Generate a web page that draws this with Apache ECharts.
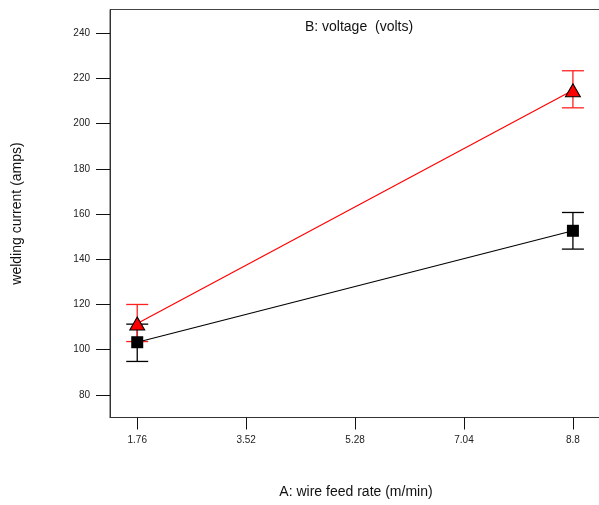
<!DOCTYPE html>
<html>
<head>
<meta charset="utf-8">
<script src="https://cdn.jsdelivr.net/npm/echarts@6/dist/echarts.min.js"></script>
<style>
  html, body { margin: 0; padding: 0; background: #fff; }
  #chart { width: 599px; height: 505px; }
</style>
</head>
<body>
<div id="chart"></div>
<script>
// x levels of factor A and tick labels
const xLevels = [1.76, 8.8]
const xTicks = [1.76, 3.52, 5.28, 7.04, 8.8]
const yTicks = [80, 100, 120, 140, 160, 180, 200, 220, 240]

// means and error-bar ends for each level of B
const lowMean = [103.3, 152.6]
const lowBottom = [94.8, 144.5]
const lowTop = [111.3, 160.7]
const highMean = [111.6, 214.8]
const highBottom = [103.6, 207.0]
const highTop = [120.0, 223.4]

const font = 'Liberation Sans, Arial, sans-serif'

const pairs = (xs, ys) => xs.map((x, i) => [x, ys[i]])
const bars = (xs, lo, hi) => xs.map((x, i) => [x, lo[i], hi[i]])

// error bar with caps
function errorBar(color) {
  return function (params, api) {
    const x = api.value(0)
    const p1 = api.coord([x, api.value(1)])
    const p2 = api.coord([x, api.value(2)])
    const w = 11
    const style = { stroke: color, lineWidth: 1.3 }
    return {
      type: 'group',
      children: [
        { type: 'line', shape: { x1: p1[0], y1: p1[1], x2: p2[0], y2: p2[1] }, style },
        { type: 'line', shape: { x1: p1[0] - w, y1: p1[1], x2: p1[0] + w, y2: p1[1] }, style },
        { type: 'line', shape: { x1: p2[0] - w, y1: p2[1], x2: p2[0] + w, y2: p2[1] }, style },
      ],
    }
  }
}

const chart = echarts.init(document.getElementById('chart'))
chart.setOption({
  animation: false,
  title: {
    text: 'B: voltage  (volts)',
    left: 354,
    textAlign: 'center',
    top: 15,
    textStyle: { fontFamily: font, fontSize: 14, fontWeight: 'normal', color: '#111' },
  },
  grid: {
    left: 110, right: -3, top: 9.5, bottom: 87.5,
    outerBoundsMode: 'none',
    show: true, borderColor: '#444', borderWidth: 1,
  },
  xAxis: {
    type: 'value',
    min: 1.32,
    max: 9.27,
    name: 'A: wire feed rate (m/min)',
    nameLocation: 'middle',
    nameGap: 68,
    nameTextStyle: { fontFamily: font, fontSize: 14, color: '#111' },
    axisLine: { show: true, lineStyle: { color: '#333' } },
    axisTick: { show: true, length: 12, customValues: xTicks, lineStyle: { color: '#111' } },
    axisLabel: { customValues: xTicks, margin: 18, fontFamily: font, fontSize: 10, color: '#222' },
    splitLine: { show: false },
  },
  yAxis: {
    type: 'value',
    min: 70,
    max: 250.5,
    name: 'welding current (amps)',
    nameLocation: 'middle',
    nameGap: 86,
    nameTextStyle: { fontFamily: font, fontSize: 14, color: '#111' },
    axisLine: { show: true, lineStyle: { color: '#333' } },
    axisTick: { show: true, length: 14, customValues: yTicks, lineStyle: { color: '#111' } },
    axisLabel: { customValues: yTicks, margin: 20, fontFamily: font, fontSize: 10, color: '#222' },
    splitLine: { show: false },
  },
  series: [
    {
      type: 'custom',
      renderItem: errorBar('#000'),
      data: bars(xLevels, lowBottom, lowTop),
      z: 2,
    },
    {
      type: 'custom',
      renderItem: errorBar('#ff2020'),
      data: bars(xLevels, highBottom, highTop),
      z: 2,
    },
    {
      type: 'line',
      data: pairs(xLevels, lowMean),
      symbol: 'rect',
      symbolSize: 12,
      itemStyle: { color: '#000' },
      lineStyle: { color: '#000', width: 1.2 },
      z: 3,
    },
    {
      type: 'line',
      data: pairs(xLevels, highMean),
      symbol: 'triangle',
      symbolSize: [15, 13],
      itemStyle: { color: '#ff0000', borderColor: '#000', borderWidth: 1 },
      lineStyle: { color: '#ff0000', width: 1.2 },
      z: 4,
    },
  ],
})
</script>
</body>
</html>
